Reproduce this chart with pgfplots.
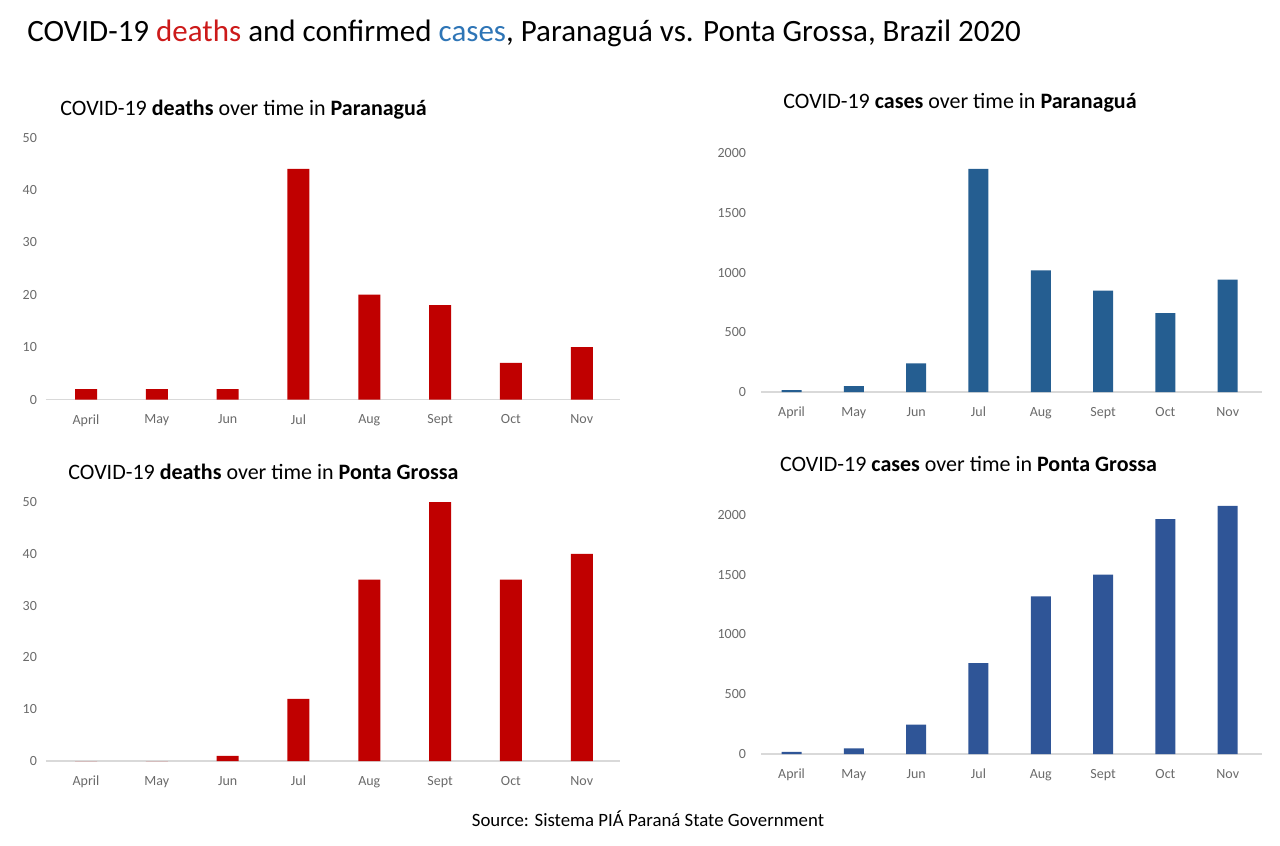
\documentclass[border=0pt]{standalone}
\usepackage{pgfplots}
\pgfplotsset{compat=1.18}
\usepackage{fontspec}
\setmainfont{Carlito}
\definecolor{dred}{HTML}{C00000}
\definecolor{bone}{HTML}{255E91}
\definecolor{btwo}{HTML}{2F5597}
\definecolor{tred}{HTML}{CC1A1A}
\definecolor{tblue}{HTML}{2E75B6}
\definecolor{tickgray}{HTML}{6A6A6A}
\definecolor{axgray}{HTML}{D9D9D9}

\pgfplotstableread{
x deaths
0 2
1 2
2 2
3 44
4 20
5 18
6 7
7 10
}\parDeaths
\pgfplotstableread{
x cases
0 15
1 50
2 240
3 1868
4 1018
5 848
6 660
7 940
}\parCases
\pgfplotstableread{
x deaths
0 0
1 0
2 1
3 12
4 35
5 50
6 35
7 40
}\pgDeaths
\pgfplotstableread{
x cases
0 17
1 47
2 245
3 760
4 1318
5 1500
6 1965
7 2075
}\pgCases

\pgfplotsset{panel/.style={
  scale only axis, ybar, ymin=0,
  xtick={0,...,7}, xticklabels={April,May,Jun,Jul,Aug,Sept,Oct,Nov},
  axis lines*=left,
  y axis line style={draw=none},
  x axis line style={-, draw=axgray, line width=0.7pt},
  major tick length=0pt,
  tick label style={font=\fontsize{7}{8}\selectfont, text=tickgray},
  /pgf/number format/assume math mode=true,
  /pgf/number format/1000 sep={},
  xticklabel style={yshift=-4pt},
  clip=false,
}}

\begin{document}
\begin{tikzpicture}
\path[use as bounding box] (0,0) rectangle (640pt,-423pt);

\node[anchor=west, font=\fontsize{15.5}{18}\selectfont, inner sep=0] at (13.5pt,-16.5pt)
  {COVID-19 \textcolor{tred}{deaths} and confirmed \textcolor{tblue}{cases}, Paranaguá vs. Ponta Grossa, Brazil 2020};

\node[anchor=west, font=\fontsize{11}{13}\selectfont, inner sep=0] at (30pt,-55pt)
  {COVID-19 \textbf{deaths} over time in \textbf{Paranaguá}};
\node[anchor=center, font=\fontsize{11}{13}\selectfont, inner sep=0] at (480pt,-51.5pt)
  {COVID-19 \textbf{cases} over time in \textbf{Paranaguá}};
\node[anchor=west, font=\fontsize{11}{13}\selectfont, inner sep=0] at (34pt,-236pt)
  {COVID-19 \textbf{deaths} over time in \textbf{Ponta Grossa}};
\node[anchor=center, font=\fontsize{11}{13}\selectfont, inner sep=0] at (484.25pt,-232pt)
  {COVID-19 \textbf{cases} over time in \textbf{Ponta Grossa}};

\node[anchor=center, font=\fontsize{9.4}{11}\selectfont, inner sep=0] at (324pt,-409.5pt)
  {Source: Sistema PIÁ Paraná State Government};

% Panel 1
\begin{axis}[panel, at={(23pt,-199.75pt)}, anchor=south west,
  width=287pt, height=131pt, xmin=-0.565, xmax=7.54, ymax=50,
  ytick={0,10,...,50}, bar width=11pt, yticklabel style={xshift=-1pt}]
\addplot[fill=dred, draw=none] table[x=x,y=deaths] {\parDeaths};
\end{axis}

% Panel 2
\begin{axis}[panel, at={(380.5pt,-196pt)}, anchor=south west,
  width=250.5pt, height=119.5pt, xmin=-0.49, xmax=7.55, ymax=2000,
  ytick={0,500,...,2000}, bar width=10pt, yticklabel style={xshift=-4pt}]
\addplot[fill=bone, draw=none] table[x=x,y=cases] {\parCases};
\end{axis}

% Panel 3
\begin{axis}[panel, at={(23pt,-380.5pt)}, anchor=south west,
  width=287pt, height=129.5pt, xmin=-0.565, xmax=7.54, ymax=50,
  ytick={0,10,...,50}, bar width=11pt, yticklabel style={xshift=-1pt}]
\addplot[fill=dred, draw=none] table[x=x,y=deaths] {\pgDeaths};
\end{axis}

% Panel 4
\begin{axis}[panel, at={(380.5pt,-377pt)}, anchor=south west,
  width=250.5pt, height=125.5pt, xmin=-0.49, xmax=7.55, ymax=2100,
  ytick={0,500,...,2000}, bar width=10pt, yticklabel style={xshift=-4pt}]
\addplot[fill=btwo, draw=none] table[x=x,y=cases] {\pgCases};
\end{axis}
\end{tikzpicture}
\end{document}
